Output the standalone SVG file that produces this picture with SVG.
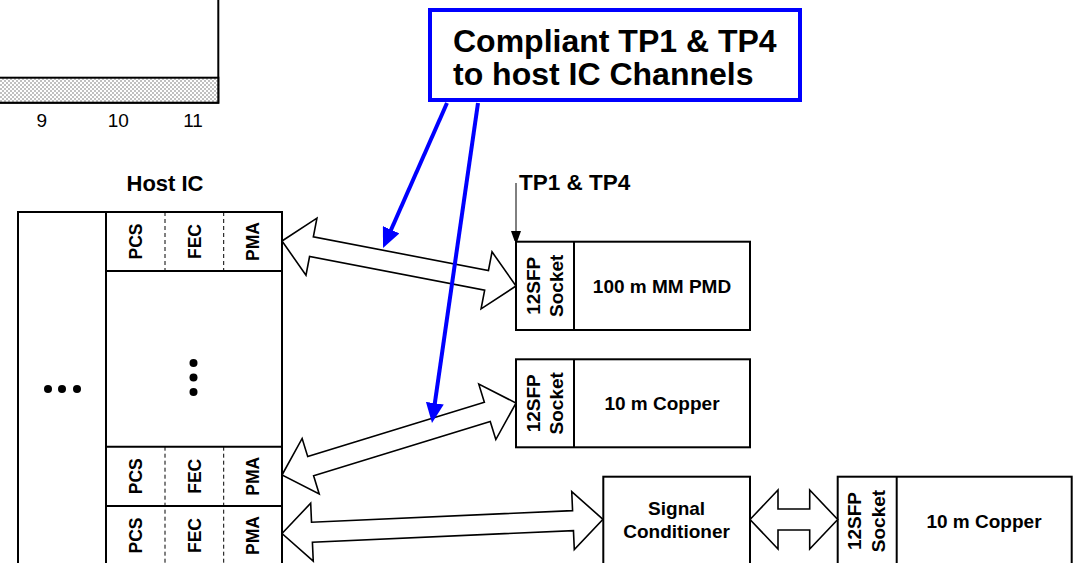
<svg xmlns="http://www.w3.org/2000/svg" width="1075" height="563" viewBox="0 0 1075 563">
<defs>
<style>
text{font-family:"Liberation Sans",Arial,sans-serif;fill:#000}
.b{font-weight:bold}
.box{fill:#fff;stroke:#000;stroke-width:2}
.ln{fill:none;stroke:#000;stroke-width:2}
.dash{fill:none;stroke:#000;stroke-width:1;stroke-dasharray:4,3}
.blk{fill:#fff;stroke:#000;stroke-width:1.6;stroke-linejoin:miter}
.blue{fill:none;stroke:#0000ff;stroke-width:4}
.lay{font-size:17.5px;font-weight:bold}
.mod{font-size:19px;font-weight:bold}
</style>
<pattern id="hatch" width="4" height="4" patternUnits="userSpaceOnUse">
<rect width="4" height="4" fill="#fff"/>
<rect width="2" height="2" fill="#c0c0c0"/>
<rect x="2" y="2" width="2" height="2" fill="#c0c0c0"/>
</pattern>
<marker id="bh" markerUnits="userSpaceOnUse" markerWidth="20" markerHeight="18" viewBox="0 0 20 18" refX="8" refY="9" orient="auto">
<path d="M0,0 L20,9 L0,18 z" fill="#0000ff"/>
</marker>
<marker id="kh" markerUnits="userSpaceOnUse" markerWidth="10" markerHeight="14" viewBox="0 0 10 14" refX="10" refY="5" orient="auto">
<path d="M0,0 L14,5 L0,10 z" fill="#000"/>
</marker>
</defs>
<rect width="1075" height="563" fill="#fff"/>

<g id="chart">
<rect class="box" x="-5" y="-5" width="223.3" height="107.7"/>
<rect x="-5" y="77.7" width="223.3" height="25" fill="url(#hatch)" stroke="#000" stroke-width="2"/>
<text x="41.7" y="126.5" font-size="19" text-anchor="middle">9</text>
<text x="118.3" y="126.5" font-size="19" text-anchor="middle">10</text>
<text x="193" y="126.5" font-size="19" text-anchor="middle">11</text>
</g>

<g id="host-ic">
<text class="b" x="165" y="191" font-size="22" text-anchor="middle">Host IC</text>
<rect class="box" x="18" y="212" width="264" height="360"/>
<line class="ln" x1="106" y1="212" x2="106" y2="572"/>
<line class="ln" x1="106" y1="271" x2="282" y2="271"/>
<line class="ln" x1="106" y1="446.7" x2="282" y2="446.7"/>
<line class="ln" x1="106" y1="506" x2="282" y2="506"/>
<line class="dash" x1="165" y1="212" x2="165" y2="271"/>
<line class="dash" x1="223.7" y1="212" x2="223.7" y2="271"/>
<line class="dash" x1="165" y1="446.7" x2="165" y2="572"/>
<line class="dash" x1="223.7" y1="446.7" x2="223.7" y2="572"/>
<g class="lay">
<text transform="translate(141.8,241.5) rotate(-90)" text-anchor="middle">PCS</text>
<text transform="translate(200.6,241.5) rotate(-90)" text-anchor="middle">FEC</text>
<text transform="translate(259.1,241.5) rotate(-90)" text-anchor="middle">PMA</text>
<text transform="translate(141.8,476.3) rotate(-90)" text-anchor="middle">PCS</text>
<text transform="translate(200.6,476.3) rotate(-90)" text-anchor="middle">FEC</text>
<text transform="translate(259.1,476.3) rotate(-90)" text-anchor="middle">PMA</text>
<text transform="translate(141.8,535.5) rotate(-90)" text-anchor="middle">PCS</text>
<text transform="translate(200.6,535.5) rotate(-90)" text-anchor="middle">FEC</text>
<text transform="translate(259.1,535.5) rotate(-90)" text-anchor="middle">PMA</text>
</g>
<circle cx="48" cy="389" r="4"/>
<circle cx="62" cy="389" r="4"/>
<circle cx="77" cy="389" r="4"/>
<circle cx="193.5" cy="363" r="4"/>
<circle cx="193.5" cy="377.5" r="4"/>
<circle cx="193.5" cy="392" r="4"/>
</g>

<g id="module-mm">
<rect class="box" x="516" y="241.7" width="234" height="88.3"/>
<line class="ln" x1="574" y1="241.7" x2="574" y2="330"/>
<text class="mod" transform="translate(539.5,285.8) rotate(-90)" text-anchor="middle">12SFP</text>
<text class="mod" transform="translate(563,285.8) rotate(-90)" text-anchor="middle">Socket</text>
<text class="mod" x="662" y="292.7" text-anchor="middle">100 m MM PMD</text>
</g>

<g id="module-cu1">
<rect class="box" x="516" y="359.3" width="234" height="88"/>
<line class="ln" x1="574" y1="359.3" x2="574" y2="447.3"/>
<text class="mod" transform="translate(539.5,403.3) rotate(-90)" text-anchor="middle">12SFP</text>
<text class="mod" transform="translate(563,403.3) rotate(-90)" text-anchor="middle">Socket</text>
<text class="mod" x="662" y="410" text-anchor="middle">10 m Copper</text>
</g>

<g id="signal-conditioner">
<rect class="box" x="603.3" y="476.7" width="146.7" height="95"/>
<text class="mod" x="676.6" y="515" text-anchor="middle">Signal</text>
<text class="mod" x="676.6" y="538" text-anchor="middle">Conditioner</text>
</g>

<g id="module-cu2">
<rect class="box" x="837.7" y="476.7" width="234" height="95"/>
<line class="ln" x1="896.7" y1="476.7" x2="896.7" y2="572"/>
<text class="mod" transform="translate(860.5,521) rotate(-90)" text-anchor="middle">12SFP</text>
<text class="mod" transform="translate(885.2,521) rotate(-90)" text-anchor="middle">Socket</text>
<text class="mod" x="984" y="528" text-anchor="middle">10 m Copper</text>
</g>

<g id="tp-label">
<text class="b" x="519" y="190" font-size="22.5">TP1 &amp; TP4</text>
</g>

<g id="callout">
<rect x="430" y="10" width="370" height="90" fill="#fff" stroke="#0000ff" stroke-width="4"/>
<text class="b" x="453" y="51.5" font-size="32">Compliant TP1 &amp; TP4</text>
<text class="b" x="453" y="85" font-size="32">to host IC Channels</text>
</g>

<g id="connectors">
<line x1="516" y1="183" x2="516" y2="241" stroke="#000" stroke-width="1" marker-end="url(#kh)"/>
<polygon class="blk" transform="translate(282,241) rotate(10.885)" points="0,0 30,-29 30,-10 208.3,-10 208.3,-29 238.3,0 208.3,29 208.3,10 30,10 30,29"/>
<polygon class="blk" transform="translate(282,475) rotate(-17.10)" points="0,0 30,-29 30,-10 214.8,-10 214.8,-29 244.8,0 214.8,29 214.8,10 30,10 30,29"/>
<polygon class="blk" transform="translate(282,533.5) rotate(-2.533)" points="0,0 30,-29 30,-10 291.3,-10 291.3,-29 321.3,0 291.3,29 291.3,10 30,10 30,29"/>
<polygon class="blk" transform="translate(750,519.5)" points="0,0 28,-29.5 28,-10.5 59.7,-10.5 59.7,-29.5 87.7,0 59.7,29.5 59.7,10.5 28,10.5 28,29.5"/>
<line class="blue" x1="447" y1="103" x2="387.9" y2="237" marker-end="url(#bh)"/>
<line class="blue" x1="478" y1="103" x2="433.7" y2="411.1" marker-end="url(#bh)"/>
</g>
</svg>
